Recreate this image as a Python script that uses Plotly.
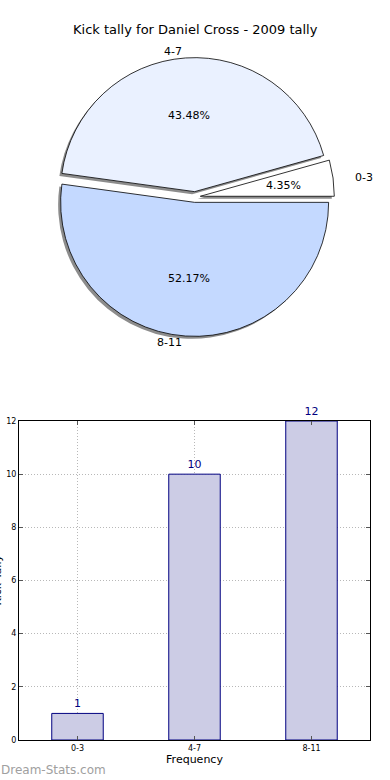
import math
import plotly.graph_objects as go

# ---- data ----
categories = ["0-3", "4-7", "8-11"]
tally = [1, 10, 12]
pie_colors = ["#ffffff", "#eaf1ff", "#c4d9ff"]
title_text = "Kick tally for Daniel Cross - 2009 tally"
x_title = "Frequency"
y_title = "Kick Tally"
watermark = "Dream-Stats.com"
y_ticks = [0, 2, 4, 6, 8, 10, 12]

W, H = 390, 780
FONT = "DejaVu Sans"

# pie geometry (pixels)
cx, cy = 195, 197
r = 134
rx_t, ry_t = 140, 128   # text placement radii (reference pie is slightly oval)
pull = 0.04
half = r * (1 + pull)
total = sum(tally)
first_angle = 360 * tally[0] / total
rot = 90 - first_angle  # first slice begins at 3 o'clock, going counterclockwise

def dom(cxp, cyp):
    return dict(x=[(cxp - half) / W, (cxp + half) / W],
                y=[(H - cyp - half) / H, (H - cyp + half) / H])

fig = go.Figure()

# shadow
fig.add_trace(go.Pie(
    labels=categories, values=tally, sort=False, direction="counterclockwise",
    rotation=rot, pull=[pull] * 3, textinfo="none", hoverinfo="skip",
    marker=dict(colors=["rgba(0,0,0,0.45)"] * 3, line=dict(width=0)),
    domain=dom(cx - 2.5, cy + 2.5), showlegend=False, automargin=False))

# main pie
fig.add_trace(go.Pie(
    labels=categories, values=tally, sort=False, direction="counterclockwise",
    rotation=rot, pull=[pull] * 3, textinfo="none", hoverinfo="label+percent",
    marker=dict(colors=pie_colors, line=dict(color="#000000", width=0.8)),
    domain=dom(cx, cy), showlegend=False, automargin=False))

def ann(xpx, ypx, text, size=11, color="#000", xanchor="center", **kw):
    return dict(x=xpx / W, y=1 - ypx / H, xref="paper", yref="paper", text=text,
                showarrow=False, xanchor=xanchor, yanchor="middle",
                font=dict(family=FONT, size=size, color=color), **kw)

annotations = []
start = 0.0
for lab, v in zip(categories, tally):
    frac = v / total
    mid = math.radians((start + frac / 2) * 360)
    start += frac
    ox = cx + pull * r * math.cos(mid)
    oy = cy - pull * r * math.sin(mid)
    px = ox + 0.6 * rx_t * math.cos(mid)
    py = oy - 0.6 * ry_t * math.sin(mid)
    annotations.append(ann(px, py, f"{frac*100:.2f}%"))
    lx = ox + 1.1 * rx_t * math.cos(mid)
    ly = oy - 1.1 * ry_t * math.sin(mid)
    annotations.append(ann(lx, ly, lab,
                           xanchor="left" if math.cos(mid) >= 0 else "right"))

# bar chart
fig.add_trace(go.Bar(
    x=categories, y=tally, text=[str(v) for v in tally], textposition="outside",
    textfont=dict(family=FONT, size=11, color="#000080"), cliponaxis=False,
    width=0.44, marker=dict(color="#ccccE5", line=dict(color="#000080", width=1)),
    showlegend=False, xaxis="x", yaxis="y"))

annotations.append(ann(195, 30, title_text, size=13))
annotations.append(ann(5, 580, y_title, xanchor="right", textangle=-90))
annotations.append(ann(-1, 770, watermark, size=12, color="#a0a0a0", xanchor="left"))

grid = dict(showgrid=True, gridcolor="#b8b8b8", griddash="1px,2px", gridwidth=1,
            showline=True, linecolor="#000", linewidth=1, mirror="allticks",
            ticks="inside", ticklen=4, tickcolor="#555", zeroline=False,
            automargin=False, tickfont=dict(family=FONT, size=8))

fig.update_layout(
    width=W, height=H, margin=dict(l=0, r=0, t=0, b=0, pad=0, autoexpand=False),
    paper_bgcolor="white", plot_bgcolor="white", showlegend=False,
    font=dict(family=FONT, color="#000"),
    annotations=annotations,
    xaxis=dict(domain=[19 / W, 370 / W], range=[-0.5, 2.5],
               title=dict(text=x_title, font=dict(family=FONT, size=11), standoff=2),
               **grid),
    yaxis=dict(domain=[40 / H, 359 / H], range=[0, 12], tickvals=y_ticks, **grid),
)

fig.write_html("out.html", config={"displayModeBar": False},
               post_script="document.body.style.margin='0px';")
